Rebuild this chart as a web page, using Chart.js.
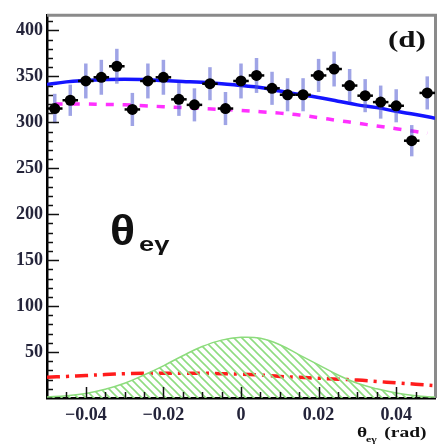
<!DOCTYPE html>
<html>
<head>
<meta charset="utf-8">
<script src="https://cdn.jsdelivr.net/npm/chart.js@4.4.1/dist/chart.umd.min.js"></script>
<style>
  html, body { margin: 0; padding: 0; background: #ffffff; }
  canvas { display: block; }
</style>
</head>
<body>
<canvas id="c" width="440" height="448"></canvas>
<script>
// Measured θeγ distribution: bin centres, counts and statistical errors
const binCentres = [-0.048, -0.044, -0.040, -0.036, -0.032, -0.028, -0.024, -0.020, -0.016, -0.012, -0.008, -0.004,
                    0.000, 0.004, 0.008, 0.012, 0.016, 0.020, 0.024, 0.028, 0.032, 0.036, 0.040, 0.044, 0.048];
const counts = [315, 324, 345, 349, 361, 314, 345, 349, 325, 319, 342, 315,
                345, 351, 337, 330, 330, 351, 358, 340, 329, 322, 318, 280, 332];
const countErrors = [16, 17, 19, 19, 19, 18, 19, 19, 18, 18, 18, 18,
                     19, 19, 18, 18, 18, 18, 19, 18, 18, 18, 18, 17, 18];

// Fit components sampled along θeγ
const curveX = [-0.050, -0.045, -0.040, -0.035, -0.030, -0.025, -0.020, -0.015, -0.010, -0.005, 0.000,
                0.005, 0.010, 0.015, 0.020, 0.025, 0.030, 0.035, 0.040, 0.045, 0.050];
const totalFit = [341, 344, 345.5, 346.5, 347, 346.5, 345.5, 344.5, 343.5, 342, 340,
                  338, 334, 330.5, 327, 323, 319, 316, 312, 308.5, 304.5];
const signalX = [-0.048, -0.045, -0.040, -0.035, -0.030, -0.025, -0.020, -0.015, -0.010, -0.005, 0.000,
                 0.005, 0.010, 0.015, 0.020, 0.025, 0.030, 0.035, 0.040, 0.045, 0.048];
const signalShape = [320, 320, 320, 319.5, 319, 318, 317, 316, 315, 314, 313,
                     311.5, 310, 308, 305, 302, 299, 296, 293, 290, 288];
const flatBackground = [22.5, 23.5, 24.5, 25.5, 26.5, 27, 27, 27, 27, 26.5, 26,
                        25, 23.5, 22.5, 21.5, 20.5, 19.5, 18, 16.5, 15, 13.5];
const peakingBackground = [1, 2.5, 5, 9.5, 16, 25, 35, 46, 56, 63, 66,
                           65, 58, 47, 36, 25, 16, 10, 5.5, 2.5, 1];

// Axis ticks
const xTickValues = [-0.04, -0.02, 0, 0.02, 0.04];
const xTickLabels = ['\u22120.04', '\u22120.02', '0', '0.02', '0.04'];
const yTickValues = [50, 100, 150, 200, 250, 300, 350, 400];
const yTickLabels = ['50', '100', '150', '200', '250', '300', '350', '400'];

const pairs = (xs, ys) => xs.map((x, i) => ({ x: x, y: ys[i] }));

// Diagonal hatch used for the peaking background
function makeHatch() {
  const s = 8;
  const c = document.createElement('canvas');
  c.width = s; c.height = s;
  const g = c.getContext('2d');
  g.strokeStyle = '#8fdc80';
  g.lineWidth = 1.6;
  g.beginPath();
  g.moveTo(0, 0); g.lineTo(s, s);
  g.moveTo(-2, s - 2); g.lineTo(2, s + 2);
  g.moveTo(s - 2, -2); g.lineTo(s + 2, 2);
  g.stroke();
  return g.createPattern(c, 'repeat');
}

const frameAndMarks = {
  id: 'frameAndMarks',
  beforeDatasetsDraw(chart) {
    const { ctx, chartArea: a } = chart;
    ctx.save();
    // grey frame on top and right
    ctx.strokeStyle = '#8a8a8a';
    ctx.lineWidth = 3;
    ctx.beginPath();
    ctx.moveTo(a.left, a.top + 0.5);
    ctx.lineTo(a.right + 0.5, a.top + 0.5);
    ctx.lineTo(a.right + 0.5, a.bottom);
    ctx.stroke();
    ctx.restore();
  },
  afterDatasetsDraw(chart) {
    const { ctx, chartArea: a, scales: { x, y } } = chart;
    ctx.save();
    // vertical error bars
    ctx.strokeStyle = 'rgba(80,90,210,0.55)';
    ctx.lineWidth = 3.5;
    binCentres.forEach((b, i) => {
      const px = x.getPixelForValue(b);
      ctx.beginPath();
      ctx.moveTo(px, y.getPixelForValue(counts[i] + countErrors[i]));
      ctx.lineTo(px, y.getPixelForValue(counts[i] - countErrors[i]));
      ctx.stroke();
    });
    // bin-width bars and markers
    ctx.strokeStyle = '#000';
    ctx.fillStyle = '#000';
    ctx.lineWidth = 2.5;
    binCentres.forEach((b, i) => {
      const py = y.getPixelForValue(counts[i]);
      ctx.beginPath();
      ctx.moveTo(x.getPixelForValue(b - 0.002), py);
      ctx.lineTo(x.getPixelForValue(b + 0.002), py);
      ctx.stroke();
      ctx.beginPath();
      ctx.arc(x.getPixelForValue(b), py, 5.5, 0, Math.PI * 2);
      ctx.fill();
    });
    // inward tick marks
    ctx.strokeStyle = '#111';
    ctx.lineWidth = 1.5;
    for (let v = 10; v <= 410; v += 10) {
      const py = Math.round(y.getPixelForValue(v)) + 0.5;
      const len = v % 50 === 0 ? 12 : 6;
      ctx.beginPath();
      ctx.moveTo(a.left, py);
      ctx.lineTo(a.left + len, py);
      ctx.stroke();
    }
    for (let k = -9; k <= 9; k++) {
      const v = k * 0.005;
      const px = Math.round(x.getPixelForValue(v)) + 0.5;
      const len = k % 4 === 0 ? 11 : 6;
      ctx.beginPath();
      ctx.moveTo(px, a.bottom);
      ctx.lineTo(px, a.bottom - len);
      ctx.stroke();
    }
    ctx.restore();
  },
  afterDraw(chart) {
    const { ctx } = chart;
    ctx.save();
    ctx.fillStyle = '#111';
    ctx.textBaseline = 'alphabetic';
    // panel label
    ctx.save();
    ctx.translate(388, 47);
    ctx.scale(1.35, 1);
    ctx.font = 'bold 23px "Liberation Serif"';
    ctx.fillText('(d)', 0, 0);
    ctx.restore();
    // variable name inside the plot
    ctx.save();
    ctx.translate(110, 245);
    ctx.scale(1.08, 1);
    ctx.font = 'bold 43px "Liberation Sans"';
    ctx.fillText('\u03b8', 0, 0);
    ctx.restore();
    ctx.save();
    ctx.translate(139, 251);
    ctx.scale(1.3, 1);
    ctx.font = 'bold 21px "Liberation Sans"';
    ctx.fillText('e\u03b3', 0, 0);
    ctx.restore();
    // x-axis title
    ctx.save();
    ctx.translate(357, 437);
    ctx.scale(1.3, 1);
    ctx.font = 'bold 15px "Liberation Serif"';
    ctx.fillText('\u03b8', 0, 0);
    ctx.font = 'bold 9px "Liberation Serif"';
    ctx.fillText('e\u03b3', 7, 5);
    ctx.font = 'bold 15px "Liberation Serif"';
    ctx.fillText('(rad)', 21, 0);
    ctx.restore();
    ctx.restore();
  }
};

const hatch = makeHatch();

new Chart(document.getElementById('c'), {
  type: 'scatter',
  data: {
    datasets: [
      {
        data: pairs(curveX, peakingBackground),
        showLine: true,
        fill: 'origin',
        backgroundColor: hatch,
        borderColor: '#8cdc7c',
        borderWidth: 1.5,
        tension: 0.4,
        pointRadius: 0
      },
      {
        data: pairs(curveX, flatBackground),
        showLine: true,
        fill: false,
        borderColor: '#ff1c1c',
        borderWidth: 3.5,
        borderDash: [13, 6, 3, 6],
        tension: 0.4,
        pointRadius: 0
      },
      {
        data: pairs(signalX, signalShape),
        showLine: true,
        fill: false,
        borderColor: '#ff30ff',
        borderWidth: 3.5,
        borderDash: [8, 9],
        tension: 0.4,
        pointRadius: 0
      },
      {
        data: pairs(curveX, totalFit),
        showLine: true,
        fill: false,
        borderColor: '#1414ff',
        borderWidth: 3.5,
        tension: 0.4,
        pointRadius: 0
      }
    ]
  },
  options: {
    responsive: false,
    animation: false,
    events: [],
    layout: { padding: { top: 8, right: 5, left: 0, bottom: 0 } },
    plugins: { legend: { display: false }, tooltip: { enabled: false } },
    scales: {
      x: {
        type: 'linear',
        min: -0.05,
        max: 0.05,
        afterBuildTicks: s => { s.ticks = xTickValues.map(v => ({ value: v })); },
        afterFit: s => { s.height = 50; },
        ticks: {
          autoSkip: false,
          maxRotation: 0,
          padding: 7,
          color: '#24243a',
          font: { family: '"Liberation Serif"', weight: 'bold', size: 18 },
          callback: (v, i) => xTickLabels[i]
        },
        grid: { display: false, drawTicks: false },
        border: { display: true, color: '#000', width: 2.5 }
      },
      y: {
        type: 'linear',
        min: 0,
        max: 417,
        afterBuildTicks: s => { s.ticks = yTickValues.map(v => ({ value: v })); },
        afterFit: s => { s.width = 47; },
        ticks: {
          autoSkip: false,
          padding: 4,
          color: '#24243a',
          font: { family: '"Liberation Serif"', weight: 'bold', size: 18 },
          callback: (v, i) => yTickLabels[i]
        },
        grid: { display: false, drawTicks: false },
        border: { display: true, color: '#000', width: 2.5 }
      }
    }
  },
  plugins: [frameAndMarks]
});
</script>
</body>
</html>
